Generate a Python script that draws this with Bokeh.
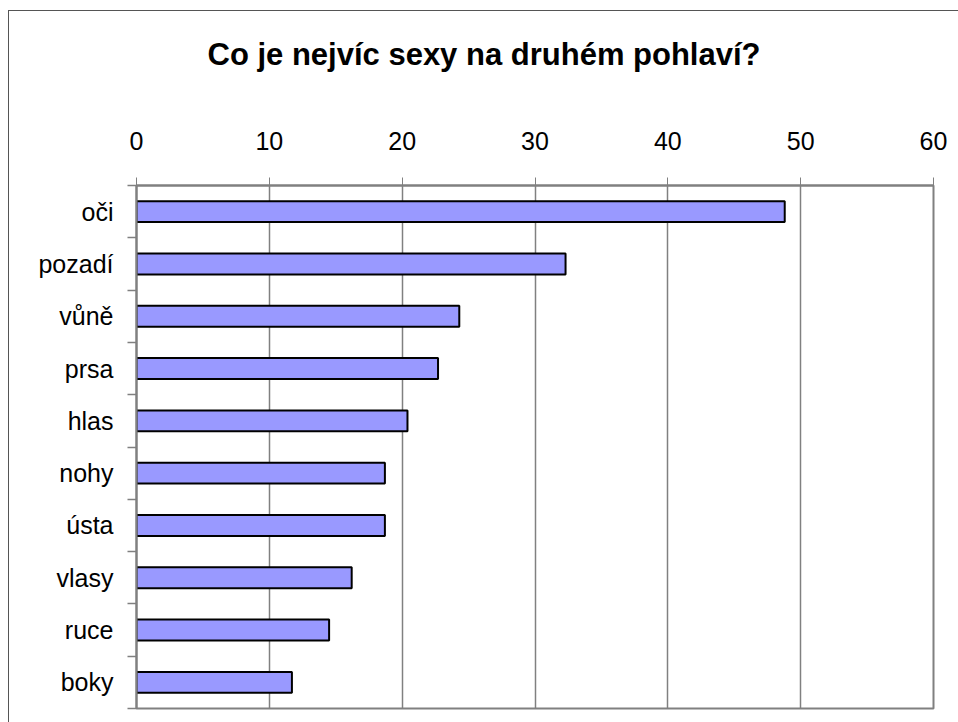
from bokeh.plotting import figure
from bokeh.models import Range1d, FixedTicker
from bokeh.embed import file_html
from bokeh.resources import INLINE

title_text = "Co je nejvíc sexy na druhém pohlaví?"
categories = ["oči", "pozadí", "vůně", "prsa", "hlas", "nohy", "ústa", "vlasy", "ruce", "boky"]
values = [48.8, 32.3, 24.3, 22.7, 20.4, 18.7, 18.7, 16.2, 14.5, 11.7]
x_ticks = [0, 10, 20, 30, 40, 50, 60]

n = len(categories)
positions = list(range(n))
boundaries = [i - 0.5 for i in range(n + 1)]

FONT = "'Liberation Sans', Arial, sans-serif"

p = figure(width=950, height=712, output_backend="svg", toolbar_location=None,
           title=title_text,
           x_range=Range1d(0, 60), y_range=Range1d(n - 0.5, -0.5),
           x_axis_location="above",
           min_border_left=127, min_border_right=26, min_border_top=174, min_border_bottom=15)
p.styles = {"margin-left": "8px", "margin-top": "10px",
            "border-left": "1px solid #555555", "border-top": "1px solid #555555",
            "box-sizing": "border-box"}
p.background_fill_color = "white"
p.border_fill_color = "white"
p.outline_line_color = "#808080"
p.outline_line_width = 2

p.title.align = "left"
p.title.offset = 71
p.title.vertical_align = "bottom"
p.title.standoff = 0
p.title.text_font = FONT
p.title.text_font_size = "31px"
p.title.text_font_style = "bold"
p.title.text_color = "black"

p.hbar(y=positions, right=values, left=0, height=0.4,
       fill_color="#9999FF", line_color="black", line_width=2)

# x axis (top)
xa = p.xaxis[0]
xa.ticker = FixedTicker(ticks=x_ticks)
xa.axis_line_color = "#808080"
xa.axis_line_width = 2
xa.major_tick_out = 8
xa.major_tick_in = 0
xa.major_tick_line_color = "#808080"
xa.minor_tick_line_color = None
xa.major_label_text_font = FONT
xa.major_label_text_font_size = "25px"
xa.major_label_text_color = "black"
xa.major_label_standoff = 28
# invisible spacer between tick labels and title
xa.axis_label = "\u00a0"
xa.axis_label_text_font_size = "10px"
xa.axis_label_standoff = 43

# y axis (left): labels at category centres, ticks at category boundaries
ya = p.yaxis[0]
ya.ticker = FixedTicker(ticks=positions, minor_ticks=boundaries)
ya.major_label_overrides = {i: c for i, c in enumerate(categories)}
ya.axis_line_color = "#808080"
ya.axis_line_width = 2
ya.major_tick_out = 0
ya.major_tick_in = 0
ya.minor_tick_out = 9
ya.minor_tick_in = 0
ya.minor_tick_line_color = "#808080"
ya.minor_tick_line_width = 1.5
ya.major_label_text_font = FONT
ya.major_label_text_font_size = "25px"
ya.major_label_text_color = "black"
ya.major_label_standoff = 14

p.xgrid.ticker = FixedTicker(ticks=x_ticks)
p.xgrid.grid_line_color = "#808080"
p.xgrid.grid_line_width = 1.5
p.ygrid.grid_line_color = None

open("out.html", "w").write(file_html(p, INLINE))
